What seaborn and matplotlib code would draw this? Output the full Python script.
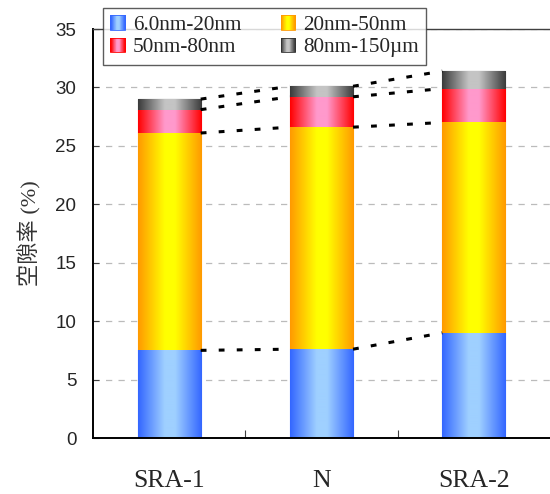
import numpy as np
import pandas as pd
import matplotlib
matplotlib.use("Agg")
import matplotlib.pyplot as plt
from matplotlib.colors import LinearSegmentedColormap
from matplotlib.patches import Rectangle
from matplotlib.legend_handler import HandlerBase
import seaborn as sns

# Pore-size fractions of porosity (%) per mixture
samples = ["SRA-1", "N", "SRA-2"]
pore_ranges = ["6.0nm-20nm", "20nm-50nm", "50nm-80nm", "80nm-150\u00b5m"]
vol_6_20nm = [7.5, 7.6, 9.0]
vol_20_50nm = [18.6, 19.0, 18.0]
vol_50_80nm = [2.0, 2.6, 2.9]
vol_80nm_150um = [0.9, 0.9, 1.5]
layers = [vol_6_20nm, vol_20_50nm, vol_50_80nm, vol_80nm_150um]

# (edge colour, centre colour) for the horizontal shading of each layer
shades = [("#3366FF", "#9FD0FF"),
          ("#FF9900", "#FFFF00"),
          ("#FF0000", "#FF99CC"),
          ("#3A3A3A", "#C4C4C4")]
outline = ["#3366FF", "#FF9900", "#FF0000", "#303030"]


def shade_cmap(edge_c, mid_c, n=256):
    return LinearSegmentedColormap.from_list(
        "shade", [(0.0, edge_c), (0.42, mid_c), (0.58, mid_c), (1.0, edge_c)], N=n)


sns.set_theme(style="white")
plt.rcParams["font.family"] = ["Liberation Sans", "DejaVu Sans"]

fig = plt.figure(figsize=(5.5, 4.94), dpi=100)
ax = fig.add_axes([93 / 550, 1 - 438 / 494, 457 / 550, 409 / 494])

bar_w = 0.414
bottom = np.zeros(len(samples))
tops = []
for vals, (edge_c, mid_c), oc in zip(layers, shades, outline):
    n_before = len(ax.patches)
    sns.barplot(x=samples, y=vals, bottom=bottom.copy(), width=bar_w,
                color=mid_c, edgecolor=oc, linewidth=0.8, ax=ax,
                saturation=1, zorder=2)
    cmap = shade_cmap(edge_c, mid_c)
    grad = np.linspace(0, 1, 256)[None, :]
    for p in ax.patches[n_before:]:
        x0, y0, w, h = p.get_x(), p.get_y(), p.get_width(), p.get_height()
        ax.imshow(grad, extent=[x0, x0 + w, y0, y0 + h], aspect="auto",
                  cmap=cmap, interpolation="bilinear", zorder=2.5)
    bottom = bottom + np.array(vals)
    tops.append(bottom.copy())

# dotted connectors between the tops of each layer on neighbouring bars
bars = ax.patches[:len(samples)]
for cum in tops:
    for i in range(len(samples) - 1):
        xr = bars[i].get_x() + bars[i].get_width()
        xl = bars[i + 1].get_x()
        ax.plot([xr, xl], [cum[i], cum[i + 1]], color="black", lw=2.2,
                ls=(0, (1.9, 4.0)), zorder=3, solid_capstyle="butt")

ax.set_xlim(-0.5, 2.5)
ax.set_ylim(0, 35)
ax.set_yticks(np.arange(0, 36, 5))
ax.yaxis.grid(True, color="#BBBBBB", ls=(0, (5, 5)), lw=0.9, zorder=0)
ax.set_axisbelow(True)

ax.spines["right"].set_visible(False)
ax.spines["top"].set_color("#404040")
ax.spines["top"].set_linewidth(1.0)
for s in ("left", "bottom"):
    ax.spines[s].set_color("black")
    ax.spines[s].set_linewidth(1.4)

ax.tick_params(axis="y", direction="in", length=4.5, width=0.8, color="#404040",
               left=True, pad=12, labelsize=13.5)
ax.set_xticks([0, 1, 2])
ax.set_xticklabels(samples, fontfamily="Liberation Serif", fontsize=18.5)
ax.set_xticks([0.5, 1.5], minor=True)
ax.tick_params(axis="x", which="major", length=0, pad=23)
ax.tick_params(axis="x", which="minor", direction="in", length=6, width=0.8,
               color="#404040", bottom=True)
ax.set_xlabel("")
ax.set_ylabel("空隙率 (%)", family=["Liberation Serif", "Noto Sans CJK JP"],
              fontsize=16, color="#333333", labelpad=10)


class ShadedSquare(HandlerBase):
    def create_artists(self, legend, orig_handle, xdescent, ydescent,
                       width, height, fontsize, trans):
        edge_c, mid_c, oc = orig_handle
        cmap = shade_cmap(edge_c, mid_c, 64)
        s = height
        x0, y0 = -xdescent, -ydescent
        n = 14
        arts = []
        for k in range(n):
            r = Rectangle((x0 + k * s / n, y0), s / n + 0.3, s,
                          facecolor=cmap((k + 0.5) / n), edgecolor="none",
                          transform=trans)
            arts.append(r)
        arts.append(Rectangle((x0, y0), s, s, facecolor="none",
                              edgecolor=oc, lw=0.6, transform=trans))
        return arts


handles = [(e, m, o) for (e, m), o in zip(shades, outline)]
# two columns filled row by row
order = [0, 2, 1, 3]
leg = ax.legend([handles[i] for i in order], [pore_ranges[i] for i in order],
                handler_map={tuple: ShadedSquare()},
                loc="upper left", bbox_to_anchor=(0.022, 1.052),
                ncol=2, frameon=True, fancybox=False, borderaxespad=0,
                prop={"family": "Liberation Serif", "size": 15.3},
                handlelength=0.7, handleheight=0.7, handletextpad=0.35,
                columnspacing=1.85, labelspacing=0.12, borderpad=0.35)
leg.get_frame().set_edgecolor("#333333")
leg.get_frame().set_linewidth(1.0)
leg.set_zorder(10)

fig.savefig("out.png", dpi=100)
